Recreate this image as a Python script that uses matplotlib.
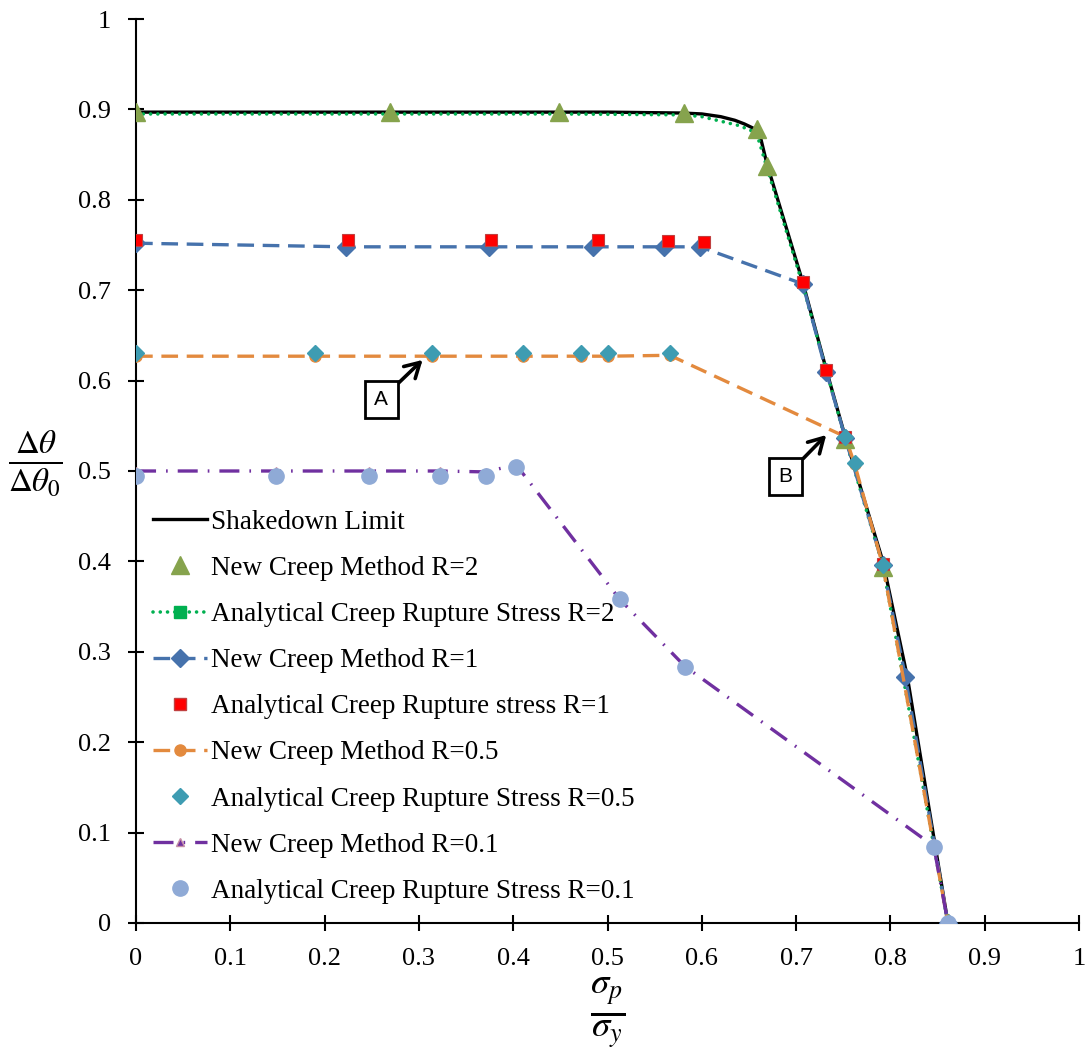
import numpy as np
import matplotlib.pyplot as plt
from matplotlib.lines import Line2D

plt.rcParams['font.family'] = ['Liberation Serif', 'DejaVu Serif']
plt.rcParams['mathtext.fontset'] = 'stix'

# --- data ---
shake_x = [0, 0.2, 0.4, 0.5, 0.58, 0.60, 0.62, 0.635, 0.645, 0.655, 0.662, 0.669, 0.707, 0.732, 0.752,
           0.792, 0.818, 0.861]
shake_y = [0.897, 0.897, 0.897, 0.897, 0.896, 0.895, 0.892, 0.888, 0.884, 0.879, 0.870, 0.840, 0.709,
           0.612, 0.538, 0.400, 0.272, 0.0]

new2_x = [0, 0.269, 0.449, 0.581, 0.658, 0.669, 0.752, 0.792, 0.861]
new2_y = [0.897, 0.897, 0.897, 0.896, 0.878, 0.837, 0.535, 0.394, 0.0]

ana2_x = [0, 0.269, 0.449, 0.581, 0.60, 0.62, 0.64, 0.658, 0.669, 0.707, 0.752, 0.792, 0.861]
ana2_y = [0.895, 0.895, 0.895, 0.894, 0.892, 0.887, 0.882, 0.874, 0.836, 0.706, 0.536, 0.395, 0.0]

new1_x = [0, 0.223, 0.374, 0.485, 0.560, 0.598, 0.707, 0.732, 0.752, 0.792, 0.816, 0.861]
new1_y = [0.752, 0.748, 0.748, 0.748, 0.748, 0.748, 0.707, 0.610, 0.537, 0.396, 0.272, 0.0]

ana1_x = [0, 0.225, 0.376, 0.490, 0.564, 0.602, 0.707, 0.732, 0.752, 0.792]
ana1_y = [0.755, 0.755, 0.755, 0.755, 0.754, 0.753, 0.709, 0.612, 0.538, 0.397]

new05_x = [0, 0.190, 0.314, 0.410, 0.472, 0.501, 0.566, 0.752, 0.762, 0.792, 0.861]
new05_y = [0.627, 0.627, 0.627, 0.627, 0.627, 0.627, 0.628, 0.538, 0.508, 0.395, 0.0]

ana05_x = [0, 0.190, 0.314, 0.410, 0.472, 0.501, 0.566, 0.752, 0.762, 0.792]
ana05_y = [0.631, 0.631, 0.631, 0.631, 0.631, 0.631, 0.630, 0.538, 0.509, 0.396]

new01_x = [0, 0.148, 0.247, 0.322, 0.371, 0.403, 0.513, 0.582, 0.846, 0.861]
new01_y = [0.500, 0.500, 0.500, 0.500, 0.499, 0.507, 0.358, 0.284, 0.085, 0.0]

ana01_x = [0, 0.148, 0.247, 0.322, 0.371, 0.403, 0.513, 0.582, 0.846, 0.861]
ana01_y = [0.494, 0.494, 0.494, 0.494, 0.494, 0.504, 0.358, 0.283, 0.084, 0.0]

labels = ['Shakedown Limit', 'New Creep Method R=2', 'Analytical Creep Rupture Stress R=2',
          'New Creep Method R=1', 'Analytical Creep Rupture stress R=1', 'New Creep Method R=0.5',
          'Analytical Creep Rupture Stress R=0.5', 'New Creep Method R=0.1',
          'Analytical Creep Rupture Stress R=0.1']
tick_labels = ['0', '0.1', '0.2', '0.3', '0.4', '0.5', '0.6', '0.7', '0.8', '0.9', '1']

c_olive = '#86A34D'
c_green = '#00B050'
c_blue = '#4672AC'
c_red = '#FF0000'
c_orange = '#E38A3E'
c_teal = '#3E9CB2'
c_purple = '#7030A0'
c_ptri = '#C58FA6'
c_lblue = '#8FAAD6'

fig = plt.figure(figsize=(10.91, 10.57), dpi=100)
ax = fig.add_axes([0.1247, 0.1268, 0.8643, 0.8552])

dash = (5, 2.6)
dashdot = (6, 3, 0.5, 3)
dots = (0.01, 2.0)
ax.plot(shake_x, shake_y, color='black', lw=2.4, zorder=2)
ax.plot(ana2_x, ana2_y, color=c_green, lw=2.6, dashes=dots, dash_capstyle='round', zorder=3)
ax.plot(new1_x, new1_y, color=c_blue, lw=2.4, dashes=dash, marker='D', ms=9, mfc=c_blue, mec=c_blue, zorder=3)
ax.plot(new05_x, new05_y, color=c_orange, lw=2.4, dashes=dash, marker='o', ms=8, mfc=c_orange, mec=c_orange, zorder=3)
ax.plot(new01_x, new01_y, color=c_purple, lw=2.4, dashes=dashdot, marker='^', ms=6,
        mfc=c_purple, mec=c_ptri, zorder=3)

ax.plot(new2_x, new2_y, ls='none', marker='^', ms=13, color=c_olive, zorder=5)
ax.plot(ana1_x, ana1_y, ls='none', marker='s', ms=8.5, mfc=c_red, mec='#C04040', mew=0.8, zorder=5)
ax.plot(ana05_x, ana05_y, ls='none', marker='D', ms=8.5, color=c_teal, zorder=5)
ax.plot(ana01_x, ana01_y, ls='none', marker='o', ms=11, color=c_lblue, zorder=6)

# annotations
arrow = dict(arrowstyle='->,head_length=0.7,head_width=0.4', color='black', lw=2.6, shrinkA=0, shrinkB=2)
box = dict(boxstyle='square,pad=0.45', fc='white', ec='black', lw=2)
ax.annotate('A', xy=(0.306, 0.625), xytext=(0.260, 0.579), fontsize=15, family='Liberation Sans',
            ha='center', va='center', bbox=box, arrowprops=arrow)
ax.annotate('B', xy=(0.734, 0.542), xytext=(0.689, 0.494), fontsize=15, family='Liberation Sans',
            ha='center', va='center', bbox=box, arrowprops=arrow)

ax.set_xlim(0, 1)
ax.set_ylim(0, 1)
ax.set_xticks(np.arange(0, 1.01, 0.1))
ax.set_yticks(np.arange(0, 1.01, 0.1))
ax.set_xticklabels(tick_labels)
ax.set_yticklabels(tick_labels)
ax.tick_params(direction='inout', length=12, width=1.5, labelsize=19)
ax.tick_params(axis='x', pad=12)
ax.tick_params(axis='y', pad=12)
for s in ['top', 'right']:
    ax.spines[s].set_visible(False)
for s in ['left', 'bottom']:
    ax.spines[s].set_linewidth(1.5)

ax.set_xlabel(r'$\frac{\sigma_p}{\sigma_y}$', fontsize=38, va='center')
ax.xaxis.set_label_coords(0.5, -0.0996)
ax.set_ylabel(r'$\frac{\Delta\theta}{\Delta\theta_0}$', fontsize=34, rotation=0, ha='center', va='center')
ax.yaxis.set_label_coords(-0.107, 0.509)

handles = [
    Line2D([], [], color='black', lw=2.4),
    Line2D([], [], ls='none', marker='^', ms=13, color=c_olive),
    Line2D([], [], color=c_green, lw=2.6, dashes=dots, dash_capstyle='round', marker='s', ms=8),
    Line2D([], [], color=c_blue, lw=2.4, dashes=dash, marker='D', ms=9),
    Line2D([], [], ls='none', marker='s', ms=8.5, mfc=c_red, mec='#C04040'),
    Line2D([], [], color=c_orange, lw=2.4, dashes=dash, marker='o', ms=8),
    Line2D([], [], ls='none', marker='D', ms=8.5, color=c_teal),
    Line2D([], [], color=c_purple, lw=2.4, dashes=dashdot, marker='^', ms=6, mfc=c_purple, mec=c_ptri),
    Line2D([], [], ls='none', marker='o', ms=11, color=c_lblue),
]
ax.legend(handles, labels, loc='upper left', bbox_to_anchor=(-0.002, 0.478), frameon=False,
          fontsize=19.5, handlelength=2.0, handletextpad=0.15, labelspacing=0.78, borderaxespad=0.3)

fig.savefig('out.png', dpi=100)
